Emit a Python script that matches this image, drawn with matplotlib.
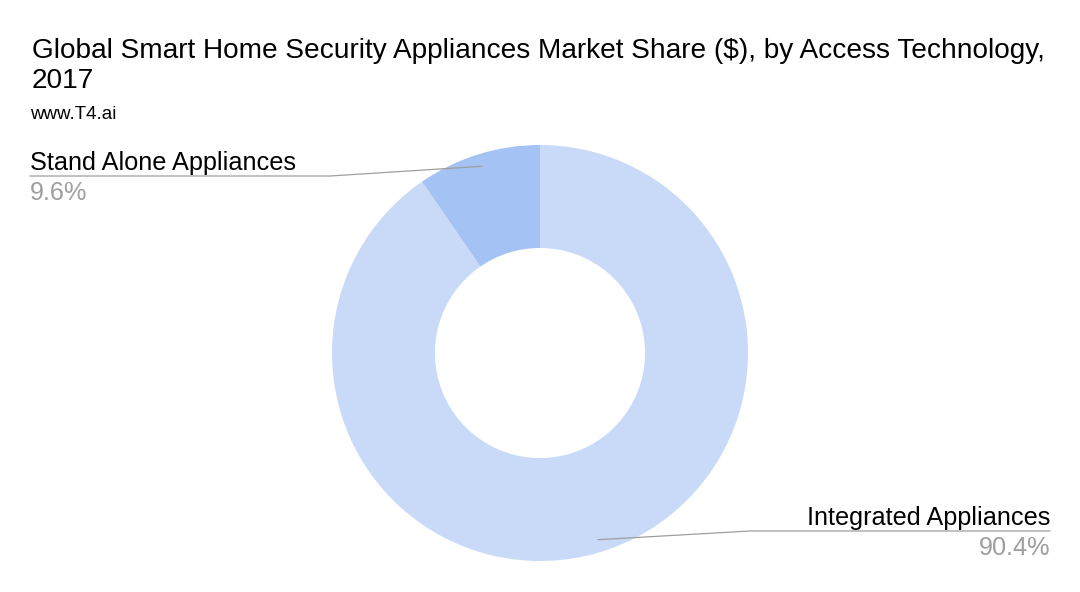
import matplotlib.pyplot as plt
import numpy as np

plt.rcParams["font.family"] = ["Liberation Sans", "DejaVu Sans"]

labels = ["Integrated Appliances", "Stand Alone Appliances"]
shares = [90.4, 9.6]
colors = ["#c9daf8", "#a4c2f4"]

W, H = 1080, 592
fig = plt.figure(figsize=(W / 100, H / 100), dpi=100)
ax = fig.add_axes([0, 0, 1, 1])


def py(y):
    # pixel row (from top) -> data y
    return H - y


cx, cy, R = 540, py(353), 208
wedges, _ = ax.pie(
    shares,
    colors=colors,
    startangle=90,
    counterclock=False,
    center=(cx, cy),
    radius=R,
    wedgeprops=dict(width=R * 0.495, linewidth=0),
    frame=True,
)
ax.set_xlim(0, W)
ax.set_ylim(0, H)
ax.set_aspect("equal")
ax.axis("off")

# leader lines + labels
for w, lab, val in zip(wedges, labels, shares):
    mid = np.deg2rad((w.theta1 + w.theta2) / 2)
    a_x = cx + 0.94 * R * np.cos(mid)
    a_y = cy + 0.94 * R * np.sin(mid)
    if np.cos(mid) < 0:
        elbow_x, line_y, end_x, ha = 330, 176, 30, "left"
    else:
        elbow_x, line_y, end_x, ha = 750, 531, 1050, "right"
    ax.plot([a_x, elbow_x, end_x], [a_y, py(line_y), py(line_y)], color="#9e9e9e", lw=0.9)
    ax.text(end_x, py(line_y - 6), lab, ha=ha, va="baseline", fontsize=18.2, color="#000000")
    ax.text(end_x, py(line_y + 24), f"{val}%", ha=ha, va="baseline", fontsize=18.2, color="#9e9e9e")

fig.text(32 / W, 1 - 58 / H, "Global Smart Home Security Appliances Market Share ($), by Access Technology,",
         fontsize=20.2, va="baseline", ha="left")
fig.text(32 / W, 1 - 88 / H, "2017", fontsize=20.2, va="baseline", ha="left")
fig.text(30 / W, 1 - 119 / H, "www.T4.ai", fontsize=13.5, va="baseline", ha="left")

fig.savefig("out.png", dpi=100, facecolor="white")
